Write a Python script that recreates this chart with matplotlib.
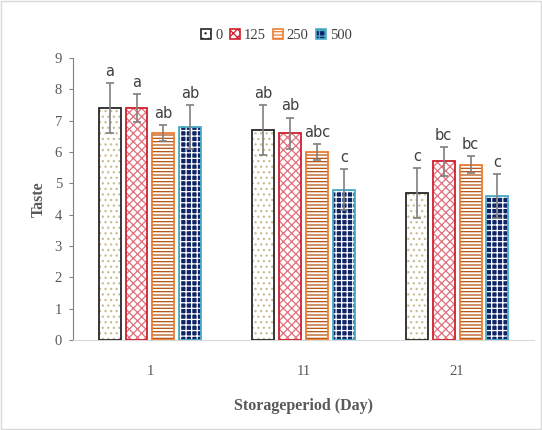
import matplotlib
matplotlib.use("Agg")
import matplotlib.pyplot as plt
from matplotlib.patches import Patch, Rectangle
import numpy as np

# data
periods = ["1", "11", "21"]
series = ["0", "125", "250", "500"]
taste = {
    "0":   [7.4, 6.7, 4.7],
    "125": [7.4, 6.6, 5.7],
    "250": [6.6, 6.0, 5.6],
    "500": [6.8, 4.8, 4.6],
}
err = {
    "0":   [0.8, 0.8, 0.8],
    "125": [0.45, 0.5, 0.47],
    "250": [0.25, 0.25, 0.28],
    "500": [0.7, 0.65, 0.7],
}
letters = {
    "0":   ["a", "ab", "c"],
    "125": ["a", "ab", "bc"],
    "250": ["ab", "abc", "bc"],
    "500": ["ab", "c", "c"],
}

# style per series: face, hatch, hatch colour, border colour
styles = {
    "0":   ("white", "...", "#C9BC94", "#262626"),
    "125": ("white", "xxxx", "#E0707C", "#D0202F"),
    "250": ("white", "-----", "#B5520F", "#ED7D31"),
    "500": ("#0E2466", "+++", "white", "#4BACC6"),
}

serif = "Liberation Serif"
plt.rcParams["hatch.linewidth"] = 0.9
fig = plt.figure(figsize=(5.42, 4.3), dpi=100)
ax = fig.add_axes([0.135, 0.209, 0.85, 0.656])

x = np.arange(len(periods))
w = 0.143
step = 0.175
for i, s in enumerate(series):
    pos = x + (i - 1.5) * step
    face, hatch, hcol, ecol = styles[s]
    ax.bar(pos, taste[s], w, color=face, hatch=hatch, edgecolor=hcol, linewidth=0, zorder=2)
    ax.bar(pos, taste[s], w, fill=False, edgecolor=ecol, linewidth=1.3, zorder=3)
    ax.errorbar(pos, taste[s], yerr=err[s], fmt="none", ecolor="#7F7F7F",
                elinewidth=1.2, capsize=3, capthick=1.2, zorder=4)
    for px, v, e, t in zip(pos, taste[s], err[s], letters[s]):
        ax.annotate(t, (px, v + e), xytext=(0, 3), textcoords="offset points",
                    ha="center", va="bottom", fontsize=10.5, color="#404040")

ax.set_xlim(-0.5, 2.5)
ax.set_ylim(0, 9)
ax.set_yticks(range(10))
ax.set_xticks(x)
ax.set_xticklabels(periods)
ax.tick_params(axis="y", length=3, color="#808080", labelsize=10.5, labelcolor="#595959", pad=5)
ax.tick_params(axis="x", length=0, labelsize=10.5, labelcolor="#595959", pad=18)
for lab in ax.get_xticklabels() + ax.get_yticklabels():
    lab.set_fontfamily(serif)
for sp in ["top", "right"]:
    ax.spines[sp].set_visible(False)
ax.spines["left"].set_color("#808080")
ax.spines["bottom"].set_color("#D9D9D9")

ax.set_ylabel("Taste", fontfamily=serif, fontweight="bold",
              fontsize=11.5, color="#595959", labelpad=6)
ax.set_xlabel("Storageperiod (Day)", fontfamily=serif, fontweight="bold",
              fontsize=11.5, color="#595959", labelpad=14)

handles = [Patch(facecolor=styles[s][0], hatch=styles[s][1], edgecolor=styles[s][3],
                 linewidth=1.2) for s in series]
fig.legend(handles, series, loc="center", bbox_to_anchor=(0.51, 0.918), ncol=4,
           frameon=False, prop={"family": serif, "size": 10.5}, handlelength=0.7,
           handleheight=0.7, handletextpad=0.25, columnspacing=0.5, labelcolor="#404040")

fig.patches.append(Rectangle((0.002, 0.002), 0.996, 0.996, transform=fig.transFigure,
                             fill=False, edgecolor="#D9D9D9", linewidth=1))

fig.savefig("out.png", dpi=100)
